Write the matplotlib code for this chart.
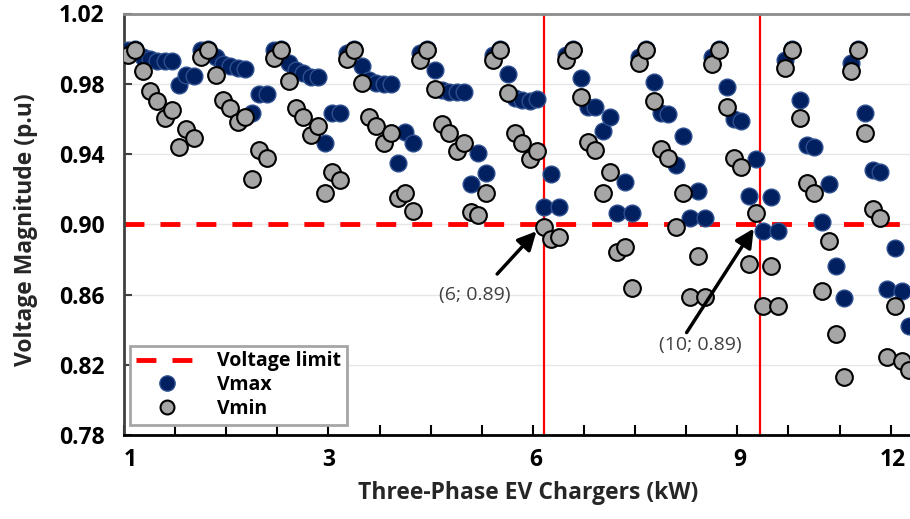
import matplotlib
matplotlib.use('Agg')
import matplotlib.pyplot as plt
import numpy as np
from matplotlib.lines import Line2D

plt.rcParams['font.family'] = ['Open Sans', 'DejaVu Sans']

# ---- data (one value per charger case, grouped) ----
vmax = [
    0.999, 1.000, 0.995, 0.994, 0.993, 0.993, 0.993, 0.9795, 0.985, 0.9845,
    0.999, 1.000, 0.995, 0.991, 0.990, 0.989, 0.9885, 0.9636, 0.974, 0.974,
    0.999, 1.000, 0.992, 0.988, 0.986, 0.984, 0.984, 0.9465, 0.9635, 0.9635,
    0.9977, 1.000, 0.990, 0.982, 0.9805, 0.980, 0.980, 0.935, 0.9525, 0.9465,
    0.9976, 1.000, 0.988, 0.9765, 0.9755, 0.9755, 0.9755, 0.923, 0.9405, 0.929,
    0.9965, 1.000, 0.9857, 0.972, 0.971, 0.970, 0.9715, 0.910, 0.9285, 0.910,
    0.9965, 1.000, 0.9835, 0.967, 0.967, 0.953, 0.961, 0.9063, 0.924, 0.9063,
    0.9955, 1.000, 0.981, 0.9635, 0.9625, 0.934, 0.950, 0.9035, 0.919, 0.9035,
    0.995, 1.000, 0.978, 0.960, 0.959, 0.916, 0.937, 0.896, 0.9155, 0.896,
    0.9936, 1.000, 0.971, 0.945, 0.944, 0.9013, 0.9227, 0.8764, 0.858,
    0.992, 1.000, 0.9636, 0.931, 0.930, 0.863, 0.8865, 0.862, 0.842,
]
vmin = [
    0.9965, 0.9993, 0.987, 0.9756, 0.970, 0.9606, 0.9653, 0.944, 0.954, 0.9492,
    0.9953, 0.9995, 0.985, 0.971, 0.966, 0.958, 0.961, 0.9255, 0.942, 0.9375,
    0.9947, 0.9995, 0.9817, 0.966, 0.961, 0.951, 0.956, 0.918, 0.9295, 0.925,
    0.994, 0.9993, 0.9806, 0.961, 0.956, 0.9465, 0.952, 0.915, 0.918, 0.9075,
    0.9936, 0.999, 0.977, 0.957, 0.952, 0.9415, 0.9465, 0.907, 0.905, 0.918,
    0.9936, 0.9993, 0.975, 0.952, 0.9465, 0.937, 0.9415, 0.8984, 0.8915, 0.893,
    0.9936, 0.9993, 0.9727, 0.947, 0.9425, 0.918, 0.9295, 0.884, 0.887, 0.8637,
    0.992, 0.9992, 0.970, 0.943, 0.9375, 0.8984, 0.918, 0.8586, 0.882, 0.8586,
    0.991, 0.9992, 0.967, 0.938, 0.9325, 0.8775, 0.9063, 0.8535, 0.8763, 0.8535,
    0.989, 0.9993, 0.9607, 0.9233, 0.918, 0.862, 0.8905, 0.8377, 0.8128,
    0.9875, 0.9993, 0.952, 0.9085, 0.9035, 0.8246, 0.8535, 0.822, 0.817,
]
voltage_limit = 0.90
limit_cases = [57, 86.5]          # cases where Vmin first drops below the limit
kw_labels = ['1', '3', '6', '9', '12']
annotations = ['(6; 0.89)', '(10; 0.89)']

x = np.arange(len(vmax))

fig = plt.figure(figsize=(9.1, 5.19), dpi=100)
ax = fig.add_axes([124 / 910, 1 - 435 / 519, 1 - 124 / 910, (435 - 13.5) / 519])

ax.set_xlim(-0.55, 107.1)
ax.set_ylim(0.78, 1.02)

# grid
yt = np.arange(0.78, 1.021, 0.04)
ax.set_yticks(yt)
ax.yaxis.grid(True, color='#e6e6e6', lw=1)
ax.set_axisbelow(True)

ax.axhline(voltage_limit, color='#ff0000', lw=3.5, dashes=(4.1, 3.3), zorder=2)
for xc in limit_cases:
    ax.axvline(xc, color='#ff0000', lw=1.6, zorder=2)

ax.scatter(x, vmax, s=145, c='#002060', edgecolors='#2e4f8f', linewidths=1, zorder=3)
ax.scatter(x, vmin, s=145, c='#a6a6a6', edgecolors='black', linewidths=1.5, zorder=4)

# arrows + notes
ax.annotate('', xy=(56.2, 0.8972), xytext=(50.3, 0.8705),
            arrowprops=dict(arrowstyle='-|>', lw=2.5, color='black', mutation_scale=28), zorder=5)
ax.text(47.5, 0.8595, annotations[0], ha='center', va='center', fontsize=14, color='#404040')
ax.annotate('', xy=(85.9, 0.8989), xytext=(76.3, 0.837),
            arrowprops=dict(arrowstyle='-|>', lw=2.5, color='black', mutation_scale=28), zorder=5)
ax.text(78.4, 0.8315, annotations[1], ha='center', va='center', fontsize=14, color='#404040')

# axes styling
ax.spines['right'].set_visible(False)
ax.spines['top'].set_color('#8c8c8c')
ax.spines['top'].set_linewidth(2)
ax.spines['left'].set_color('#404040')
ax.spines['left'].set_linewidth(2)
ax.spines['bottom'].set_color('black')
ax.spines['bottom'].set_linewidth(2)

ax.set_yticklabels(['%.2f' % v for v in yt], fontsize=16.5, fontweight='bold')
ax.tick_params(axis='y', direction='in', length=6, width=1.5, color='#404040', pad=14)

ax.set_xticks([0.27, 27.5, 55.8, 83.8, 104.7])
ax.set_xticklabels(kw_labels, fontsize=16.5, fontweight='bold')
ax.tick_params(axis='x', which='major', length=0, pad=9)
ax.set_xticks(-0.55 + 7 * np.arange(16), minor=True)
ax.tick_params(axis='x', which='minor', direction='in', length=7, width=1.5, color='black')

ax.set_xlabel('Three-Phase EV Chargers (kW)', fontsize=16.5, fontweight='bold', color='#262626')
ax.xaxis.set_label_coords(0.514, -0.11)
ax.set_ylabel('Voltage Magnitude (p.u)', fontsize=16.5, fontweight='bold', color='#262626')
ax.yaxis.set_label_coords(-0.109, 0.486)

handles = [
    Line2D([], [], color='#ff0000', lw=3.5, dashes=(4.1, 3.3)),
    Line2D([], [], ls='none', marker='o', ms=11, mfc='#002060', mec='#2e4f8f', mew=1),
    Line2D([], [], ls='none', marker='o', ms=10, mfc='#a6a6a6', mec='black', mew=1.5),
]
leg = ax.legend(handles, ['Voltage limit', 'Vmax', 'Vmin'], loc='lower left',
                bbox_to_anchor=(0.0076, 0.0237), borderaxespad=0, fancybox=False,
                edgecolor='#a6a6a6', framealpha=1, handlelength=3.2, handletextpad=1.0,
                labelspacing=0.2, borderpad=0.3, prop={'weight': 'bold', 'size': 14})
leg.get_frame().set_linewidth(2)
leg.set_zorder(6)

fig.savefig('out.png', dpi=100)
